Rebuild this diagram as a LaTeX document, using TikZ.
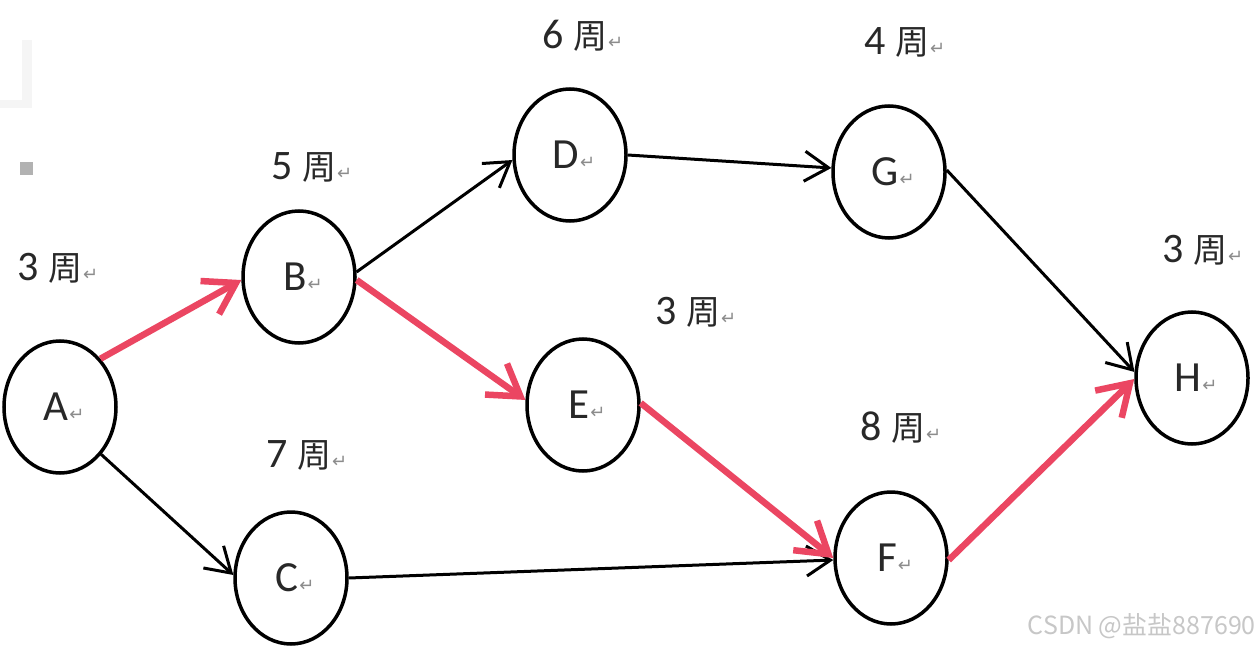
\documentclass[tikz,border=0pt]{standalone}
\usepackage{fontspec}
\setmainfont{Carlito}
\newfontfamily\cjk{Noto Sans CJK SC}
\newfontfamily\symf{DejaVu Sans}
\usetikzlibrary{arrows.meta,shapes.geometric}
\definecolor{critred}{RGB}{235,70,98}
\definecolor{txtgray}{RGB}{40,40,40}
\newcommand\pmark{{\fontsize{18}{18}\symf\color{black!45}\kern1pt↵}}
\newcommand\evtxt[1]{\raisebox{-10pt}{\hspace*{8pt}#1\pmark}}
\tikzset{
  evt/.style={ellipse, draw=black, line width=3.5pt, fill=white,
    minimum width=112pt, minimum height=132pt, inner sep=0pt,
    font=\fontsize{43}{45}\selectfont, text=txtgray},
  dur/.style={font=\fontsize{42}{44}\selectfont, text=txtgray, inner sep=0pt},
  plain/.style={draw=black, line width=3pt,
    -{Straight Barb[length=24pt,width=30pt,line width=3pt]}},
  crit/.style={draw=critred, line width=6.5pt,
    -{Straight Barb[length=30pt,width=38pt,line width=6.5pt]}},
}
\newcommand\wk[1]{#1\hspace{9pt}{\fontsize{34}{36}\cjk 周}\pmark}
\begin{document}
\begin{tikzpicture}[x=1pt,y=-1pt]
\useasboundingbox[fill=white] (0,0) rectangle (1260,647);
% faint artifacts top left
\fill[black!4] (22,40) rectangle (32,108);
\fill[black!4] (0,100) rectangle (32,108);
\fill[black!30] (20,162) rectangle (33,175);

% nodes
\node[evt] (A) at (60,407) {\evtxt{A}};
\node[evt] (B) at (299,277) {\evtxt{B}};
\node[evt] (C) at (291,578) {\evtxt{C}};
\node[evt] (D) at (570,155) {\evtxt{D}};
\node[evt] (E) at (583,405) {\evtxt{E}};
\node[evt] (F) at (891,558) {\evtxt{F}};
\node[evt] (G) at (889,172) {\evtxt{G}};
\node[evt] (H) at (1192,378) {\evtxt{H}};

% durations
\node[dur] (lA) at (58,268) {\wk{3}};
\node[dur] (lB) at (312,167) {\wk{5}};
\node[dur] (lD) at (583,36) {\wk{6}};
\node[dur] (lG) at (905,42) {\wk{4}};
\node[dur] (lH) at (1203,250) {\wk{3}};
\node[dur] (lE) at (696,312) {\wk{3}};
\node[dur] (lF) at (901,428) {\wk{8}};
\node[dur] (lC) at (307,455) {\wk{7}};

% connectors
\draw[plain] (A.311) -- (C.177);
\draw[plain] (B.5) -- (D.185);
\draw[plain] (D.0) -- (G.176);
\draw[plain] (C.0) -- (F.182);
\draw[plain] (G.2) -- (H.174);
\draw[crit] (A.50) -- (B.183);
\draw[crit] (B.357) -- (E.175);
\draw[crit] (E.2) -- (F.180);
\draw[crit] (F.358) -- (H.181);

% watermark
\node[anchor=east, inner sep=0pt, text=black!22,
  font=\fontsize{25}{27}\cjk] (wm) at (1256,626) {CSDN @盐盐887690};
\end{tikzpicture}
\end{document}
